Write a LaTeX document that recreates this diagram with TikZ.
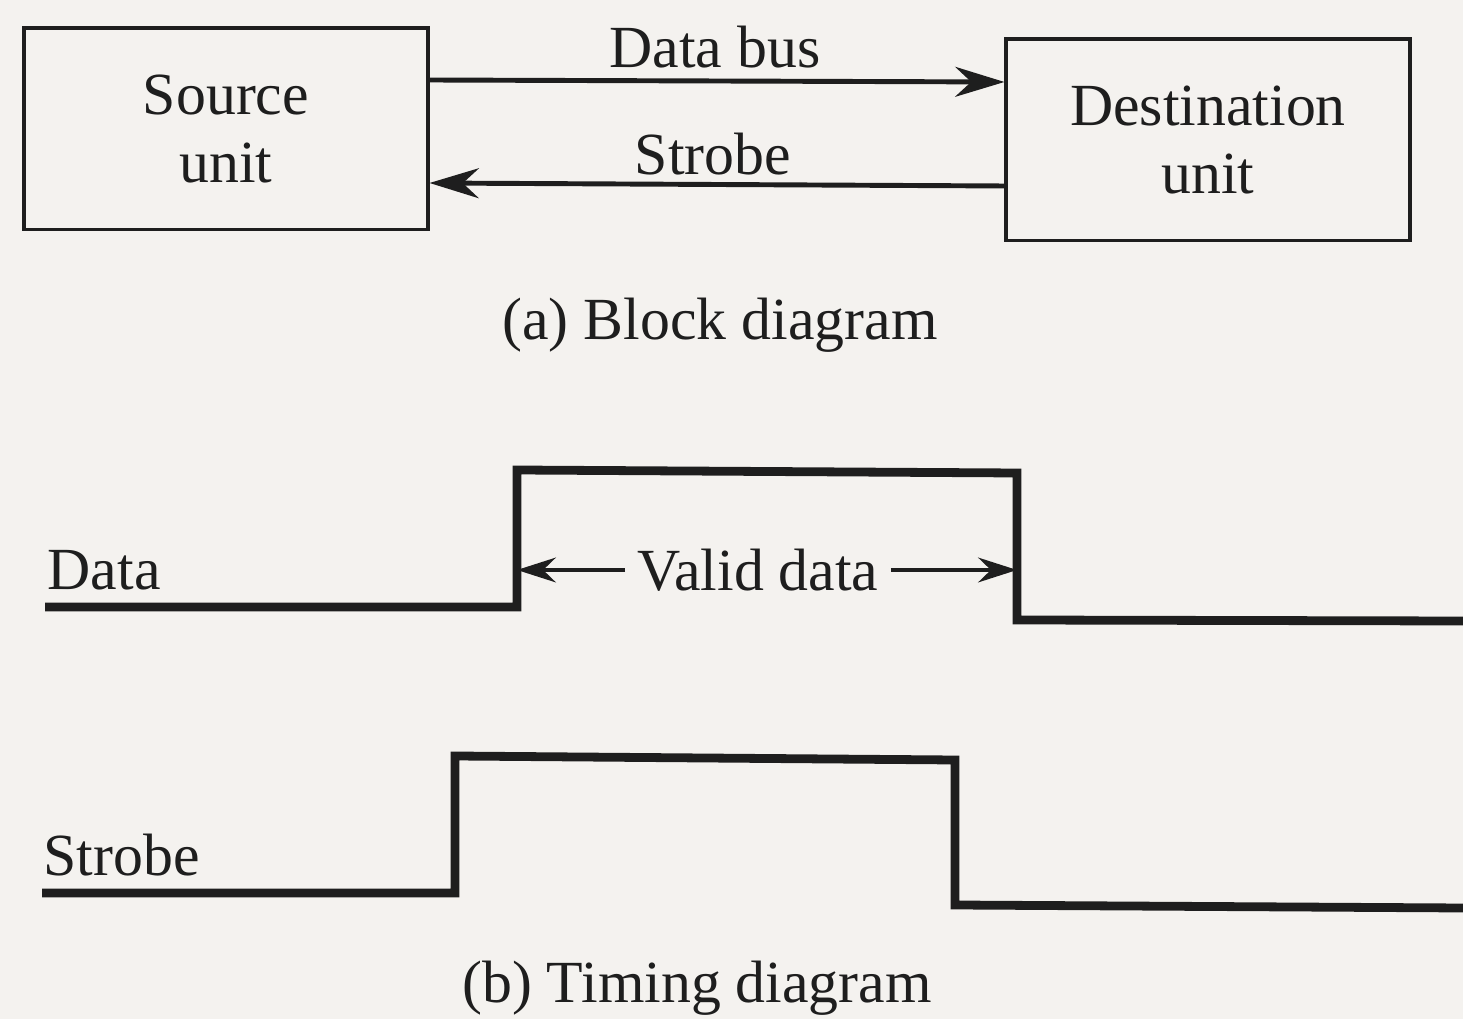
\documentclass[tikz,border=0pt]{standalone}
\usepackage{fontspec}
\setmainfont{Liberation Serif}
\usetikzlibrary{arrows.meta}
\definecolor{bgcol}{RGB}{244,242,239}
\definecolor{ink}{RGB}{30,30,30}
\begin{document}
\begin{tikzpicture}[x=0.01cm,y=-0.01cm,
  every node/.style={text=ink,font=\fontsize{17}{19.5}\selectfont},
  unitbox/.style={draw=ink,line width=1.1pt,minimum width=4.03cm,minimum height=2.01cm,align=center,inner sep=0pt},
  busline/.style={draw=ink,line width=1.4pt,-{Stealth[length=14pt,width=8.5pt]}},
  wave/.style={draw=ink,line width=2.5pt,line join=miter},
  validarrow/.style={draw=ink,line width=1.3pt,-{Stealth[length=11pt,width=7pt]}}]
\useasboundingbox (0,0) rectangle (1463,1019);
\fill[bgcol] (0,0) rectangle (1463,1019);
% (a) block diagram
\node[unitbox] (src) at (226,129) {Source\\unit};
\node[unitbox] (dst) at (1208,140) {Destination\\unit};
\node (dbl) at (715,47) {Data bus};
\node (stl) at (713,154) {Strobe};
\draw[busline] (src.east |- 0,80) -- (dst.west |- 0,82);
\draw[busline] (dst.west |- 0,186) -- (src.east |- 0,183);
\node (capa) at (720,325) {(a) Block diagram};
% (b) timing diagram
\coordinate (d0) at (45,607);
\coordinate (d1) at (517,607);
\coordinate (d2) at (517,470);
\coordinate (d3) at (1017,473);
\coordinate (d4) at (1017,620);
\coordinate (d5) at (1463,621);
\draw[wave] (d0) -- (d1) -- (d2) -- (d3) -- (d4) -- (d5);
\node[anchor=base west,inner sep=0pt] (dlab) at (47,590) {Data};
\node (vd) at (758,570) {Valid data};
\draw[validarrow] (vd.west) -- (vd.west -| d1);
\draw[validarrow] (vd.east) -- (vd.east -| d3);
\coordinate (s0) at (42,893);
\coordinate (s1) at (455,893);
\coordinate (s2) at (455,756);
\coordinate (s3) at (955,760);
\coordinate (s4) at (955,905);
\coordinate (s5) at (1463,908);
\draw[wave] (s0) -- (s1) -- (s2) -- (s3) -- (s4) -- (s5);
\node[anchor=base west,inner sep=0pt] (slab) at (43,876) {Strobe};
\node (capb) at (697,988) {(b) Timing diagram};
\end{tikzpicture}
\end{document}
